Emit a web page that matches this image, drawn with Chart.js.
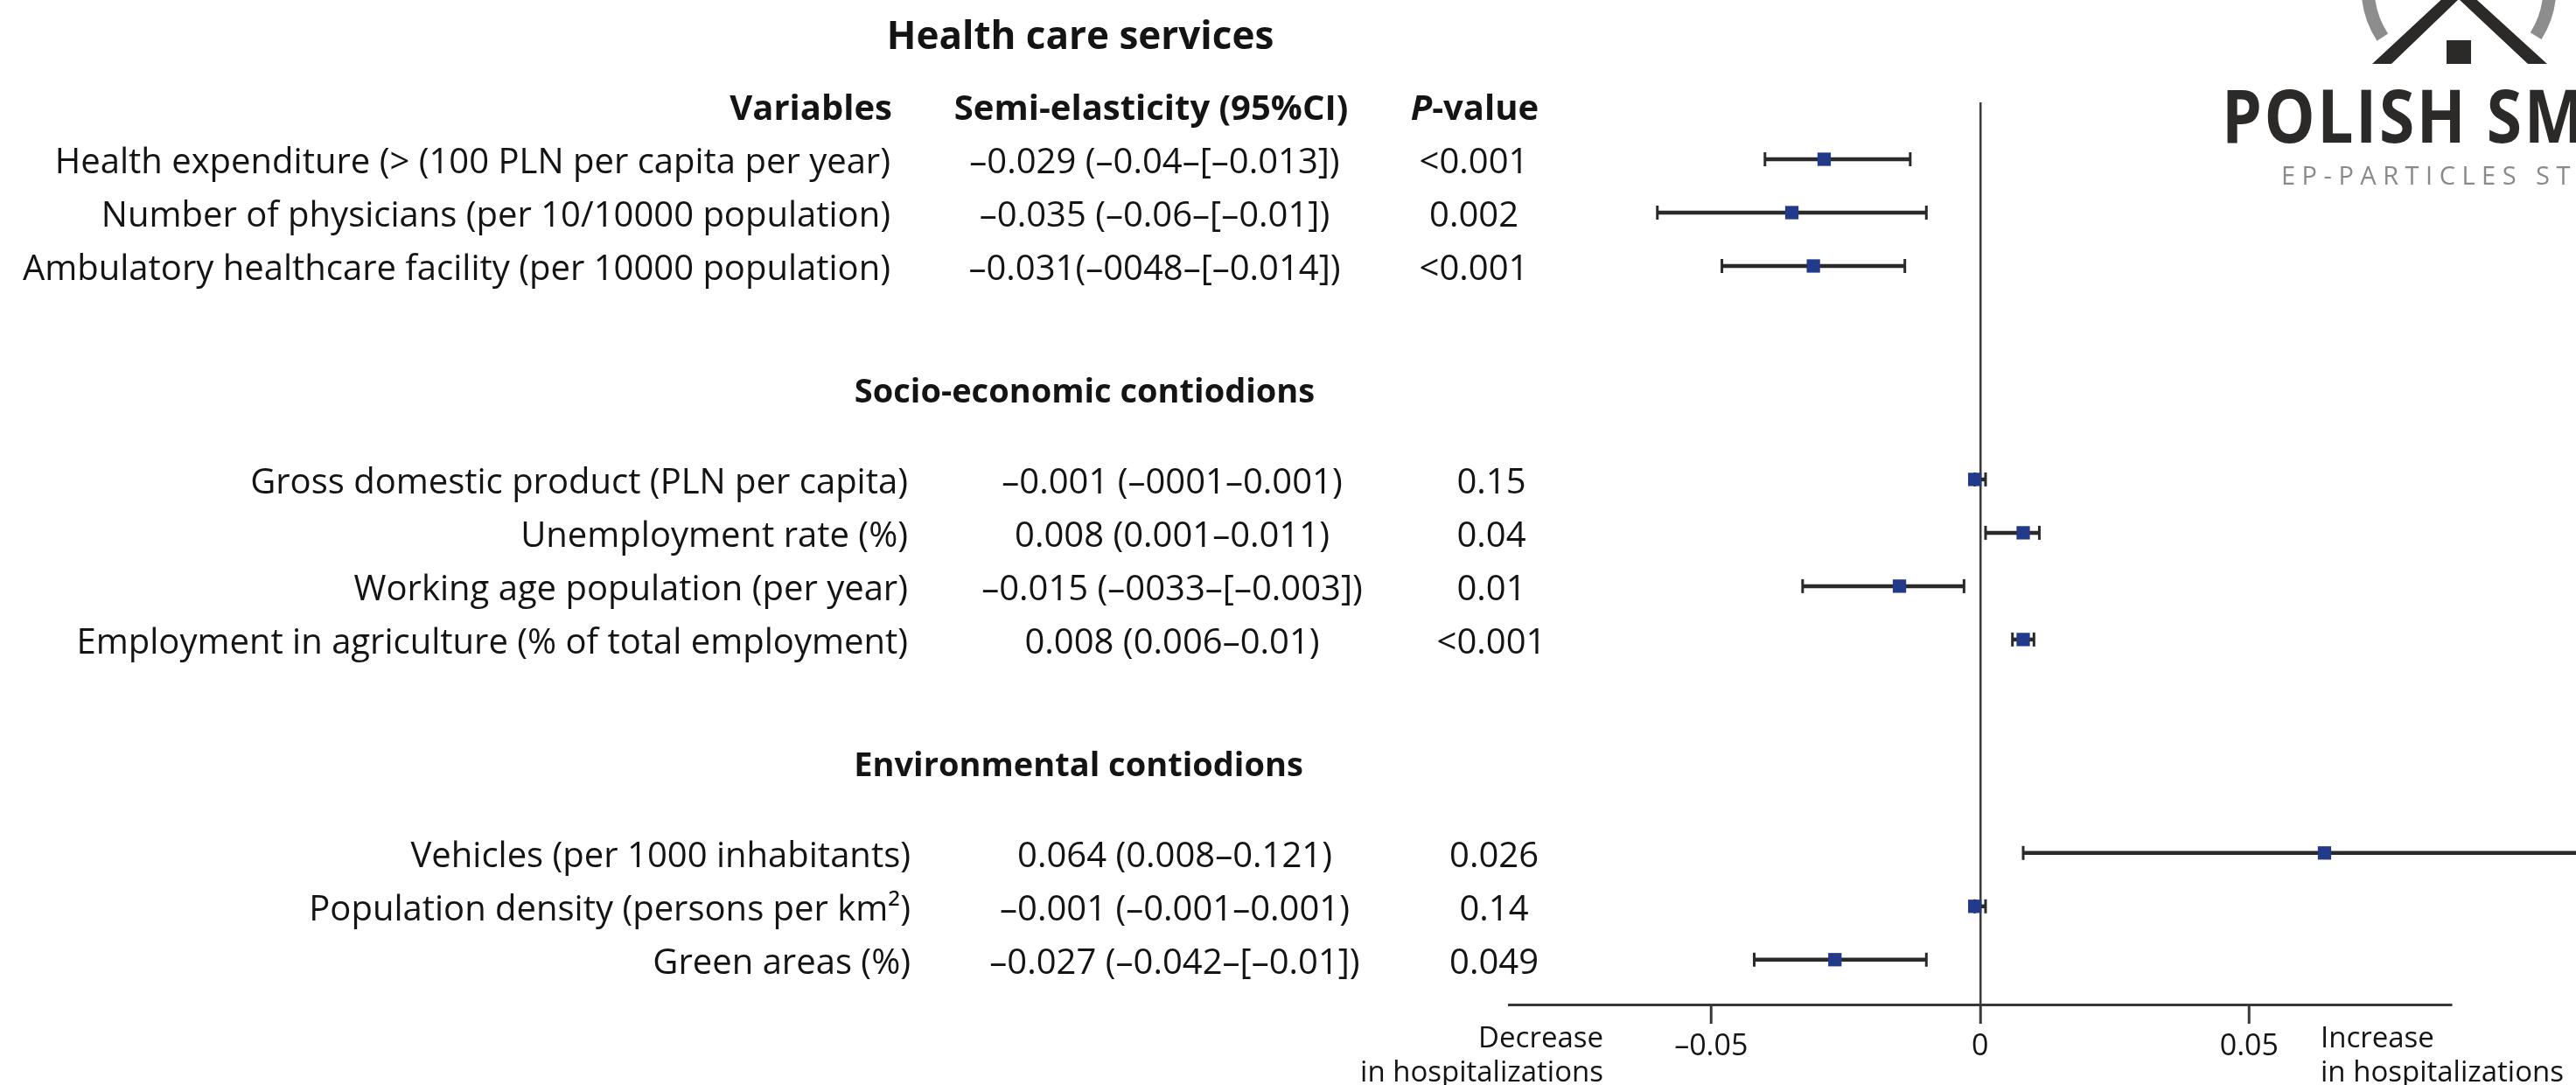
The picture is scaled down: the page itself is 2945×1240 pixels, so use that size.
<!DOCTYPE html>
<html>
<head>
<meta charset="utf-8">
<title>Semi-elasticity of hospitalizations</title>
<script src="https://cdn.jsdelivr.net/npm/chart.js@4.4.1/dist/chart.umd.min.js"></script>
<style>
  html, body { margin: 0; padding: 0; background: #ffffff; }
  #wrap { width: 2945px; height: 1240px; position: relative; overflow: hidden; }
  canvas { display: block; }
</style>
</head>
<body>
<div id="wrap"><canvas id="forest" width="2945" height="1240"></canvas></div>
<script>
// ---- data ---------------------------------------------------------------
const groupTitles = ['Health care services', 'Socio-economic contiodions', 'Environmental contiodions'];
const groupSizes = [3, 4, 3];

const variables = [
  'Health expenditure (> (100 PLN per capita per year)',
  'Number of physicians (per 10/10000 population)',
  'Ambulatory healthcare facility (per 10000 population)',
  'Gross domestic product (PLN per capita)',
  'Unemployment rate (%)',
  'Working age population (per year)',
  'Employment in agriculture (% of total employment)',
  'Vehicles (per 1000 inhabitants)',
  'Population density (persons per km\u00B2)',
  'Green areas (%)'
];
const estimates = [-0.029, -0.035, -0.031, -0.001, 0.008, -0.015, 0.008, 0.064, -0.001, -0.027];
const ciLower   = [-0.04, -0.06, -0.048, -0.001, 0.001, -0.033, 0.006, 0.008, -0.001, -0.042];
const ciUpper   = [-0.013, -0.01, -0.014, 0.001, 0.011, -0.003, 0.01, 0.121, 0.001, -0.01];
const ciLabels = [
  '\u20130.029 (\u20130.04\u2013[\u20130.013])',
  '\u20130.035 (\u20130.06\u2013[\u20130.01])',
  '\u20130.031(\u20130048\u2013[\u20130.014])',
  '\u20130.001 (\u20130001\u20130.001)',
  '0.008 (0.001\u20130.011)',
  '\u20130.015 (\u20130033\u2013[\u20130.003])',
  '0.008 (0.006\u20130.01)',
  '0.064 (0.008\u20130.121)',
  '\u20130.001 (\u20130.001\u20130.001)',
  '\u20130.027 (\u20130.042\u2013[\u20130.01])'
];
const pValues = ['<0.001', '0.002', '<0.001', '0.15', '0.04', '0.01', '<0.001', '0.026', '0.14', '0.049'];

const columnHeaders = ['Variables', 'Semi-elasticity (95%CI)', 'P', '-value'];
const xTickValues = [-0.05, 0, 0.05];
const xTickLabels = ['\u20130.05', '0', '0.05'];
const decreaseLabel = ['Decrease', 'in hospitalizations'];
const increaseLabel = ['Increase', 'in hospitalizations'];
const logoTitle = 'POLISH SM';
const logoSubtitle = 'EP-PARTICLES STU';

// ---- layout ---------------------------------------------------------------
const FAMILY = "'Open Sans', 'Noto Sans', sans-serif";
const INK = '#141414';
const GROUP_GAP = 4;            // slots between the last row of a group and the next group
const Y_MIN = -1.066, Y_MAX = 15.84;
const X_MIN = -0.0876, X_MAX = 0.0875;

// row slot positions derived from the group structure
const rowSlot = [], rowGroup = [], groupStart = [];
(function () {
  let s = 0;
  groupSizes.forEach((n, g) => {
    groupStart.push(s);
    for (let k = 0; k < n; k++) { rowSlot.push(s + k); rowGroup.push(g); }
    s += n - 1 + GROUP_GAP;
  });
})();

const COL_LABEL_RIGHT = 1018;
const COL_CI_CENTER = 1320;
const COL_P_CENTER = 1685;
const GROUP_SHIFT = [0, 20, 23];
const TITLE_X = [1235, 1240, 1233];
const TITLE_OFFSET = [-2.33, -1.66, -1.66];
const TITLE_SIZE = [44, 38, 38];
const ROW_SIZE = 40;

function txt(ctx, s, x, y, align, font, color) {
  ctx.save();
  ctx.font = font;
  ctx.fillStyle = color || INK;
  ctx.textAlign = align;
  ctx.textBaseline = 'alphabetic';
  ctx.fillText(s, x, y);
  ctx.restore();
}

// left-hand table: titles, headers, labels, estimates and p-values
const tablePlugin = {
  id: 'table',
  afterDraw(chart) {
    const ctx = chart.ctx;
    const y = chart.scales.y;
    const py = v => y.getPixelForValue(v);
    const rowFont = `${ROW_SIZE}px ${FAMILY}`;
    const boldFont = `bold ${ROW_SIZE}px ${FAMILY}`;
    const base = 16;

    groupTitles.forEach((t, g) => {
      const size = TITLE_SIZE[g];
      txt(ctx, t, TITLE_X[g], py(groupStart[g] + TITLE_OFFSET[g]) + size * 0.36,
          'center', `bold ${size}px ${FAMILY}`);
    });

    const hy = py(groupStart[0] - 1) + base;
    txt(ctx, columnHeaders[0], COL_LABEL_RIGHT + 2, hy, 'right', boldFont);
    txt(ctx, columnHeaders[1], COL_CI_CENTER - 4, hy, 'center', boldFont);
    ctx.save();
    ctx.font = `italic bold ${ROW_SIZE}px ${FAMILY}`;
    const wP = ctx.measureText(columnHeaders[2]).width;
    ctx.font = boldFont;
    const wV = ctx.measureText(columnHeaders[3]).width;
    ctx.restore();
    const px0 = COL_P_CENTER + 1 - (wP + wV) / 2;
    txt(ctx, columnHeaders[2], px0, hy, 'left', `italic bold ${ROW_SIZE}px ${FAMILY}`);
    txt(ctx, columnHeaders[3], px0 + wP, hy, 'left', boldFont);

    variables.forEach((v, i) => {
      const sh = GROUP_SHIFT[rowGroup[i]];
      const by = py(rowSlot[i]) + base;
      txt(ctx, v, COL_LABEL_RIGHT + sh, by, 'right', rowFont);
      txt(ctx, ciLabels[i], COL_CI_CENTER + sh, by, 'center', rowFont);
      txt(ctx, pValues[i], COL_P_CENTER + sh, by, 'center', rowFont);
    });

    // direction captions beside the x axis
    const area = chart.chartArea;
    const dFont = `33px ${FAMILY}`;
    txt(ctx, decreaseLabel[0], area.left + 108, area.bottom + 49, 'right', dFont);
    txt(ctx, decreaseLabel[1], area.left + 108, area.bottom + 88, 'right', dFont);
    txt(ctx, increaseLabel[0], area.right - 149, area.bottom + 49, 'left', dFont);
    txt(ctx, increaseLabel[1], area.right - 149, area.bottom + 88, 'left', dFont);
  }
};

// confidence-interval whiskers behind the point markers
const whiskerPlugin = {
  id: 'whiskers',
  beforeDatasetsDraw(chart) {
    const ctx = chart.ctx;
    const { x, y } = chart.scales;
    ctx.save();
    ctx.strokeStyle = '#2a2a2a';
    ctx.lineCap = 'butt';
    variables.forEach((_, i) => {
      const yp = y.getPixelForValue(rowSlot[i]);
      const x0 = x.getPixelForValue(ciLower[i]);
      const x1 = x.getPixelForValue(ciUpper[i]);
      ctx.lineWidth = 4.5;
      ctx.beginPath(); ctx.moveTo(x0, yp); ctx.lineTo(x1, yp); ctx.stroke();
      ctx.lineWidth = 3;
      [x0, x1].forEach(xx => {
        ctx.beginPath(); ctx.moveTo(xx, yp - 8); ctx.lineTo(xx, yp + 8); ctx.stroke();
      });
    });
    ctx.restore();
  }
};

// house-and-ring badge with the wordmark in the top right corner
const badgePlugin = {
  id: 'badge',
  afterDraw(chart) {
    const ctx = chart.ctx;
    ctx.save();
    // grey ring segments
    const d = Math.PI / 180;
    ctx.strokeStyle = '#8d8d8d';
    ctx.lineWidth = 15;
    ctx.beginPath(); ctx.arc(2811, -14, 104, 147 * d, 215 * d); ctx.stroke();
    ctx.beginPath(); ctx.arc(2811, -14, 104, -35 * d, 32 * d); ctx.stroke();
    // roof
    ctx.fillStyle = '#2b2a28';
    ctx.beginPath();
    ctx.moveTo(2712, 73); ctx.lineTo(2811, -19); ctx.lineTo(2912, 73);
    ctx.lineTo(2890, 73); ctx.lineTo(2811, -1); ctx.lineTo(2734, 73);
    ctx.closePath(); ctx.fill();
    // door
    ctx.fillRect(2797, 46, 28, 27);
    // wordmark
    ctx.font = `bold 85px ${FAMILY}`;
    ctx.textBaseline = 'alphabetic';
    ctx.translate(2540, 163);
    ctx.scale(0.86, 1);
    let wx = 0;
    for (const ch of logoTitle) {
      ctx.fillText(ch, wx, 0);
      wx += ctx.measureText(ch).width + 3;
    }
    ctx.restore();

    ctx.save();
    ctx.font = `500 29px ${FAMILY}`;
    ctx.fillStyle = '#8a8a8a';
    ctx.textBaseline = 'alphabetic';
    let cx = 2608;
    for (const ch of logoSubtitle) {
      ctx.fillText(ch, cx, 211);
      cx += ctx.measureText(ch).width + 7.5;
    }
    ctx.restore();
  }
};

Chart.defaults.font.family = FAMILY;

new Chart(document.getElementById('forest'), {
  type: 'scatter',
  data: {
    datasets: [{
      data: estimates.map((v, i) => ({ x: v, y: rowSlot[i] })),
      pointStyle: 'rect',
      pointRadius: 10.8,
      pointHoverRadius: 10.8,
      backgroundColor: '#233a8b',
      borderColor: '#233a8b',
      borderWidth: 0
    }]
  },
  options: {
    responsive: false,
    devicePixelRatio: 1,
    animation: false,
    events: [],
    layout: { padding: { left: 1725, right: 143, top: 117, bottom: 0 } },
    plugins: { legend: { display: false }, tooltip: { enabled: false } },
    scales: {
      x: {
        type: 'linear',
        position: 'bottom',
        min: X_MIN,
        max: X_MAX,
        afterBuildTicks: scale => { scale.ticks = xTickValues.map(v => ({ value: v })); },
        afterFit: scale => { scale.height = 92; },
        border: { display: true, color: '#383838', width: 3 },
        grid: {
          drawOnChartArea: true,
          drawTicks: true,
          tickLength: 22,
          tickWidth: 3,
          tickColor: '#383838',
          lineWidth: 2.5,
          color: c => (c.tick && c.tick.value === 0 ? '#3a3a3a' : 'rgba(0,0,0,0)')
        },
        ticks: {
          autoSkip: false,
          maxRotation: 0,
          padding: 6,
          color: INK,
          font: { size: 34, family: FAMILY },
          callback: v => {
            const k = xTickValues.indexOf(v);
            return k >= 0 ? xTickLabels[k] : '';
          }
        }
      },
      y: {
        type: 'linear',
        display: false,
        reverse: true,
        min: Y_MIN,
        max: Y_MAX
      }
    }
  },
  plugins: [whiskerPlugin, tablePlugin, badgePlugin]
});
</script>
</body>
</html>
